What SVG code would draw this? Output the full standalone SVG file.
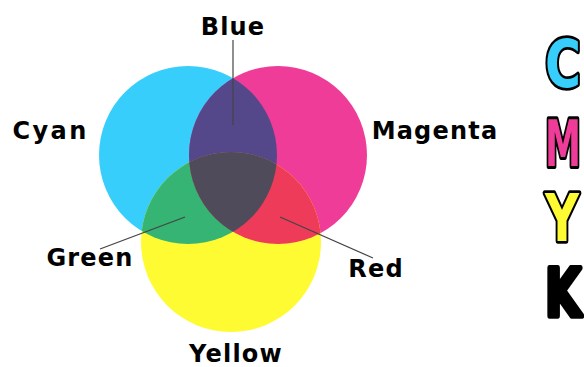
<svg xmlns="http://www.w3.org/2000/svg" width="584" height="367" viewBox="0 0 584 367">
<style>
.lbl{font-family:"DejaVu Sans","Liberation Sans",sans-serif;font-weight:bold;font-size:24px;letter-spacing:1.2px;fill:#000}
.big{font-family:"DejaVu Sans","Liberation Sans",sans-serif;font-weight:bold;font-size:41px;stroke:#000;stroke-width:3.4;paint-order:stroke;stroke-linejoin:round}
.ln{stroke:#444;stroke-width:1.2;fill:none}
</style>
<defs>
<circle id="cc" cx="188" cy="155" r="89"/>
<circle id="mc" cx="278" cy="155" r="89"/>
<circle id="yc" cx="231" cy="242" r="90"/>
<clipPath id="clipC"><use href="#cc"/></clipPath>
<clipPath id="clipM"><use href="#mc"/></clipPath>
</defs>
<rect width="584" height="367" fill="#fff"/>
<g id="cyan"><use href="#cc" fill="#38CEFB"/></g>
<g id="magenta"><use href="#mc" fill="#EE3C98"/></g>
<g id="yellow"><use href="#yc" fill="#FFFB33"/></g>
<g id="blue" clip-path="url(#clipC)"><use href="#mc" fill="#55488A"/></g>
<g id="green" clip-path="url(#clipC)"><use href="#yc" fill="#35B474"/></g>
<g id="red" clip-path="url(#clipM)"><use href="#yc" fill="#EF3B5A"/></g>
<g id="center" clip-path="url(#clipC)"><g clip-path="url(#clipM)"><use href="#yc" fill="#4F4B5A"/></g></g>
<g id="connectors">
<line class="ln" x1="233" y1="40" x2="233" y2="125"/>
<line class="ln" x1="100" y1="249" x2="185" y2="217"/>
<line class="ln" x1="280" y1="217" x2="373" y2="258"/>
</g>
<g id="labels">
<text class="lbl" x="50" y="139" text-anchor="middle" textLength="75" lengthAdjust="spacing">Cyan</text>
<text class="lbl" x="233" y="35" text-anchor="middle">Blue</text>
<text class="lbl" x="435" y="139" text-anchor="middle">Magenta</text>
<text class="lbl" x="90" y="266" text-anchor="middle">Green</text>
<text class="lbl" x="376" y="277" text-anchor="middle">Red</text>
<text class="lbl" x="236" y="362" text-anchor="middle">Yellow</text>
</g>
<g id="cmyk">
<text class="big" transform="translate(545,87) scale(1,1.6)" fill="#38CEFB" textLength="36" lengthAdjust="spacingAndGlyphs">C</text>
<text class="big" transform="translate(545,166) scale(1,1.73)" style="font-size:37px" fill="#EE3C98" textLength="36" lengthAdjust="spacingAndGlyphs">M</text>
<text class="big" transform="translate(545,241) scale(1,1.6)" fill="#FFFB33" textLength="34" lengthAdjust="spacingAndGlyphs">Y</text>
<text class="big" transform="translate(545,316) scale(1,1.6)" fill="#000" textLength="36" lengthAdjust="spacingAndGlyphs">K</text>
</g>
</svg>
